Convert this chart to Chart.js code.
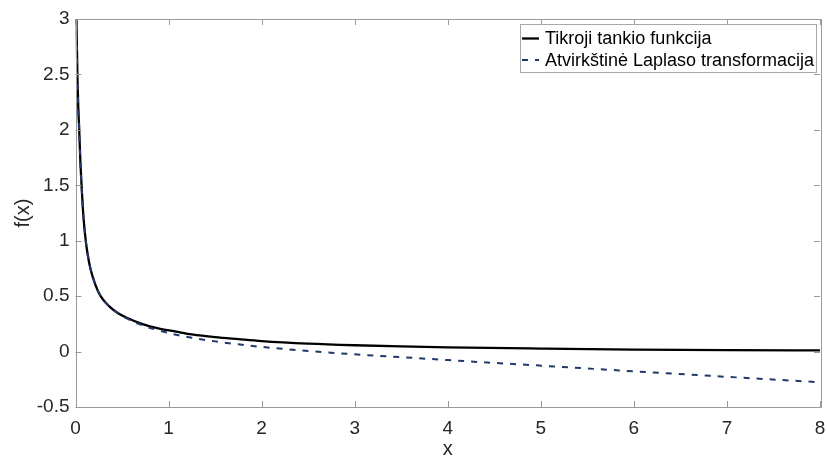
<!DOCTYPE html>
<html>
<head>
<meta charset="utf-8">
<script src="https://cdn.jsdelivr.net/npm/chart.js@4"></script>
<style>
  html, body { margin: 0; padding: 0; background: #fff; }
  #wrap { width: 827px; height: 461px; }
</style>
</head>
<body>
<div id="wrap"><canvas id="plot"></canvas></div>
<script>
// values
const seriesNames = ['Tikroji tankio funkcija', 'Atvirkštinė Laplaso transformacija'];
const xTrue = [0.01, 0.02, 0.03, 0.04, 0.052, 0.065, 0.085, 0.11, 0.13, 0.16, 0.215, 0.27, 0.36, 0.45, 0.54, 0.72, 0.9, 1.08, 1.25, 1.5, 1.75, 2, 2.5, 3, 3.5, 4, 5, 6, 7, 8];
const yTrue = [3.0, 2.5, 2.2, 2.0, 1.72, 1.5, 1.22, 1.0, 0.88, 0.75, 0.6, 0.5, 0.41, 0.35, 0.309, 0.247, 0.207, 0.18, 0.155, 0.13, 0.112, 0.095, 0.072, 0.057, 0.046, 0.038, 0.027, 0.018, 0.013, 0.01];
const xLap = [0.01, 0.02, 0.03, 0.04, 0.052, 0.065, 0.085, 0.11, 0.13, 0.16, 0.215, 0.27, 0.36, 0.45, 0.54, 0.72, 0.9, 1.08, 1.25, 1.5, 1.75, 2, 2.5, 3, 3.5, 4, 5, 6, 7, 8];
const yLap = [3.0, 2.5, 2.2, 2.0, 1.72, 1.5, 1.22, 1.0, 0.88, 0.75, 0.6, 0.5, 0.41, 0.348, 0.303, 0.236, 0.19, 0.152, 0.124, 0.092, 0.065, 0.042, 0.005, -0.025, -0.05, -0.077, -0.127, -0.178, -0.228, -0.277];
const xTicks = [0, 1, 2, 3, 4, 5, 6, 7, 8];
const yTicks = [-0.5, 0, 0.5, 1, 1.5, 2, 2.5, 3];

const AXIS = '#9a9a9a';
const TEXT = '#262626';
const FONT = 'Liberation Sans, Arial, sans-serif';

function pts(xs, ys) { return xs.map((x, i) => ({ x: x, y: ys[i] })); }

// inward tick marks on all four sides + box, MATLAB style
const boxTicks = {
  id: 'boxTicks',
  afterDatasetsDraw(chart) {
    const { ctx, chartArea: a, scales } = chart;
    const L = 6;
    ctx.save();
    ctx.strokeStyle = AXIS;
    ctx.lineWidth = 1;
    ctx.beginPath();
    xTicks.forEach(v => {
      const px = Math.round(scales.x.getPixelForValue(v)) + 0.5;
      ctx.moveTo(px, a.bottom); ctx.lineTo(px, a.bottom - L);
      ctx.moveTo(px, a.top); ctx.lineTo(px, a.top + L);
    });
    yTicks.forEach(v => {
      const py = Math.round(scales.y.getPixelForValue(v)) + 0.5;
      ctx.moveTo(a.left, py); ctx.lineTo(a.left + L, py);
      ctx.moveTo(a.right, py); ctx.lineTo(a.right - L, py);
    });
    ctx.stroke();
    ctx.strokeRect(Math.round(a.left) + 0.5, Math.round(a.top) + 0.5,
      Math.round(a.right - a.left), Math.round(a.bottom - a.top));
    ctx.restore();
  }
};

// legend box in the top right corner
const boxLegend = {
  id: 'boxLegend',
  afterDraw(chart) {
    const { ctx, chartArea: a } = chart;
    const w = 296, h = 48, right = Math.round(a.right) - 4, top = Math.round(a.top) + 5;
    const left = right - w;
    ctx.save();
    ctx.fillStyle = '#fff';
    ctx.fillRect(left, top, w, h);
    ctx.strokeStyle = '#a8a8a8';
    ctx.lineWidth = 1;
    ctx.strokeRect(left + 0.5, top + 0.5, w, h);
    ctx.font = '18px ' + FONT;
    ctx.textBaseline = 'middle';
    ctx.fillStyle = '#000';
    chart.data.datasets.forEach((ds, i) => {
      const y = top + 14.5 + i * 21.5;
      ctx.strokeStyle = ds.borderColor;
      ctx.lineWidth = ds.borderWidth;
      ctx.setLineDash(ds.borderDash || []);
      ctx.beginPath();
      ctx.moveTo(left + 2, y); ctx.lineTo(left + 19, y);
      ctx.stroke();
      ctx.setLineDash([]);
      ctx.fillText(ds.label, left + 25, y + 1);
    });
    ctx.restore();
  }
};

new Chart(document.getElementById('plot'), {
  type: 'line',
  data: {
    datasets: [
      {
        label: seriesNames[0],
        data: pts(xTrue, yTrue),
        borderColor: '#000000',
        borderWidth: 2.3,
        pointRadius: 0,
        cubicInterpolationMode: 'monotone',
        fill: false,
        order: 1
      },
      {
        label: seriesNames[1],
        data: pts(xLap, yLap),
        borderColor: '#22376a',
        borderWidth: 2,
        borderDash: [6, 7],
        pointRadius: 0,
        cubicInterpolationMode: 'monotone',
        fill: false,
        order: 0
      }
    ]
  },
  options: {
    responsive: true,
    maintainAspectRatio: false,
    animation: false,
    events: [],
    layout: { padding: { top: 19, right: 7, left: 0, bottom: 0 } },
    plugins: { legend: { display: false }, tooltip: { enabled: false } },
    scales: {
      x: {
        type: 'linear',
        min: 0, max: 8,
        afterBuildTicks: s => { s.ticks = xTicks.map(v => ({ value: v })); },
        afterFit: s => { s.height = 54; s.paddingLeft = 0; s.paddingRight = 0; },
        grid: { display: false, drawTicks: false },
        border: { display: false },
        ticks: { color: TEXT, font: { family: FONT, size: 19 }, padding: 10, maxRotation: 0, callback: v => String(v) },
        title: { display: true, text: 'x', color: TEXT, font: { family: FONT, size: 20 }, padding: { top: 0, bottom: 0 } }
      },
      y: {
        type: 'linear',
        min: -0.5, max: 3,
        afterBuildTicks: s => { s.ticks = yTicks.map(v => ({ value: v })); },
        afterFit: s => { s.width = 75.5; s.paddingTop = 0; s.paddingBottom = 0; },
        grid: { display: false, drawTicks: false },
        border: { display: false },
        ticks: { color: TEXT, font: { family: FONT, size: 19 }, padding: 6, callback: v => String(v) },
        title: { display: true, text: 'f(x)', color: TEXT, font: { family: FONT, size: 20 }, padding: { top: 11, bottom: 11 } }
      }
    }
  },
  plugins: [boxTicks, boxLegend]
});
</script>
</body>
</html>
